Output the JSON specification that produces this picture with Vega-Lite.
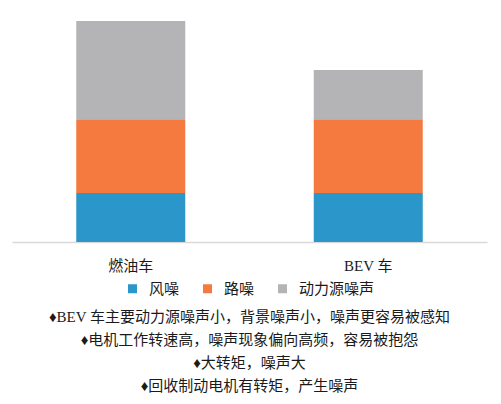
{
  "$schema": "https://vega.github.io/schema/vega-lite/v6.json",
  "autosize": "none",
  "width": 475,
  "height": 221,
  "padding": {"left": 12, "top": 21, "right": 14, "bottom": 162},
  "background": "white",
  "data": {
    "values": [
      {"car": "燃油车", "type": "风噪", "order": 1, "value": 2},
      {"car": "燃油车", "type": "路噪", "order": 2, "value": 3},
      {"car": "燃油车", "type": "动力源噪声", "order": 3, "value": 4},
      {"car": "BEV 车", "type": "风噪", "order": 1, "value": 2},
      {"car": "BEV 车", "type": "路噪", "order": 2, "value": 3},
      {"car": "BEV 车", "type": "动力源噪声", "order": 3, "value": 2}
    ]
  },
  "title": {
    "text": ["♦BEV 车主要动力源噪声小，背景噪声小，噪声更容易被感知", "♦电机工作转速高，噪声现象偏向高频，容易被抱怨", "♦大转矩，噪声大", "♦回收制动电机有转矩，产生噪声"],
    "orient": "bottom",
    "anchor": "middle",
    "font": "Liberation Serif, Noto Sans CJK SC",
    "fontSize": 15,
    "fontWeight": "normal",
    "lineHeight": 23,
    "color": "#1a1a1a",
    "offset": 13
  },
  "mark": {"type": "bar", "size": 109},
  "encoding": {
    "x": {
      "field": "car",
      "type": "nominal",
      "sort": ["燃油车", "BEV 车"],
      "scale": {"paddingInner": 0, "paddingOuter": 0},
      "axis": {
        "title": null,
        "labelAngle": 0,
        "ticks": false,
        "domainColor": "#d9d9d9",
        "domainWidth": 1.5,
        "labelFont": "Liberation Serif, Noto Sans CJK SC",
        "labelFontSize": 15,
        "labelColor": "#1a1a1a",
        "labelPadding": 16
      }
    },
    "y": {
      "field": "value",
      "type": "quantitative",
      "stack": "zero",
      "scale": {"domain": [0, 9], "nice": false},
      "axis": null
    },
    "color": {
      "field": "type",
      "type": "nominal",
      "sort": ["风噪", "路噪", "动力源噪声"],
      "scale": {"domain": ["风噪", "路噪", "动力源噪声"], "range": ["#2b96c9", "#f47a40", "#b4b4b6"]},
      "legend": {
        "title": null,
        "orient": "bottom",
        "direction": "horizontal",
        "symbolType": "square",
        "symbolSize": 81,
        "symbolStrokeWidth": 0,
        "labelFont": "Liberation Serif, Noto Sans CJK SC",
        "labelFontSize": 15,
        "labelColor": "#1a1a1a",
        "labelOffset": 9,
        "columnPadding": 20,
        "offset": 8
      }
    },
    "order": {"field": "order", "type": "quantitative"}
  },
  "config": {
    "view": {"stroke": null},
    "legend": {"layout": {"bottom": {"anchor": "middle"}}}
  }
}
